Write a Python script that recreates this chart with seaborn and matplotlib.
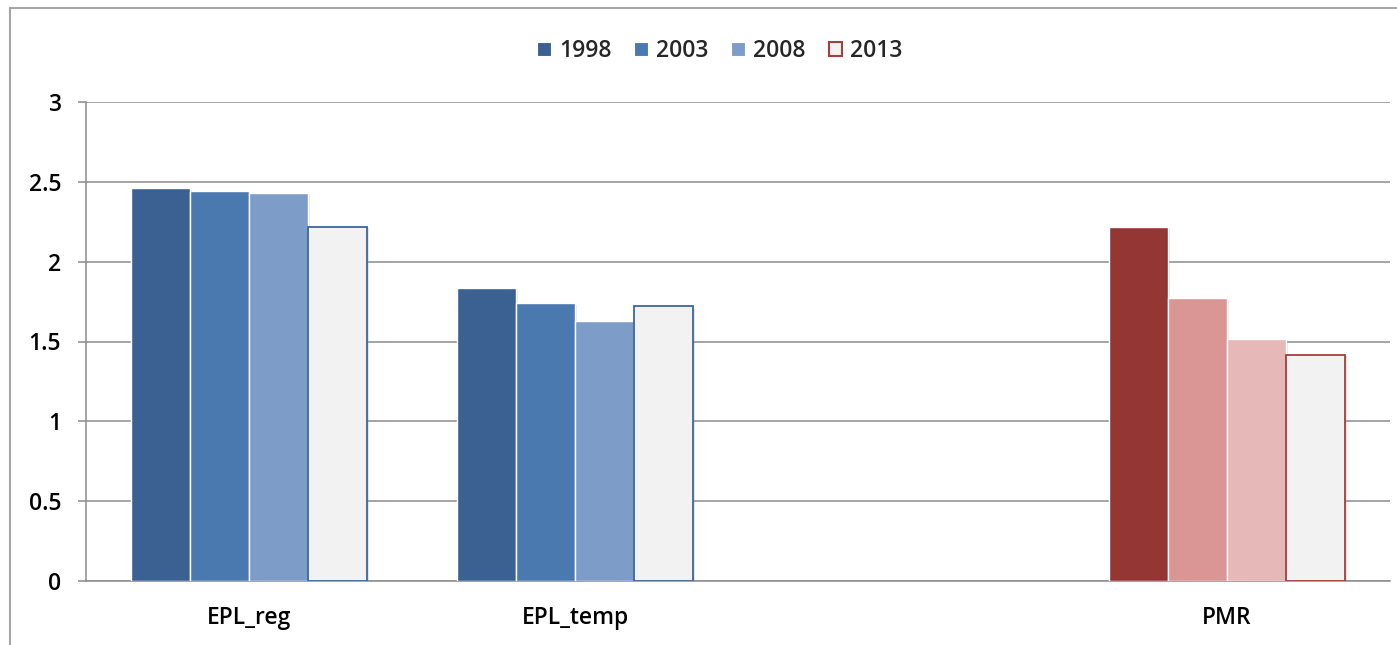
import matplotlib
matplotlib.use("Agg")
import matplotlib.pyplot as plt
import matplotlib.patheffects as pe
from matplotlib.patches import Patch, Rectangle
import pandas as pd
import seaborn as sns

# Indicator slots (one blank slot keeps PMR apart from the EPL group)
categories = ["EPL_reg", "EPL_temp", " ", "PMR"]
years = ["1998", "2003", "2008", "2013"]
epl_reg = [2.46, 2.44, 2.43, 2.22]
epl_temp = [1.835, 1.74, 1.63, 1.72]
pmr = [2.22, 1.77, 1.515, 1.415]
ytick_values = [0, 0.5, 1, 1.5, 2, 2.5, 3]
ytick_labels = ["0", "0.5", "1", "1.5", "2", "2.5", "3"]

blue_fills = ["#3A6191", "#4A79B0", "#7E9CC8", "#F2F2F2"]
red_fills = ["#943634", "#D99694", "#E6B8B7", "#F2F2F2"]
blue_edge = "#3E6699"
red_edge = "#A0403E"
grid_grey = "#8C8C8C"

rows = []
for cat, vals in [("EPL_reg", epl_reg), ("EPL_temp", epl_temp), ("PMR", pmr)]:
    for yr, v in zip(years, vals):
        rows.append({"indicator": cat, "year": yr, "value": v})
df = pd.DataFrame(rows)

sns.set_theme(style="white")
plt.rcParams["font.family"] = ["Open Sans", "DejaVu Sans"]
plt.rcParams["font.weight"] = 600
FS = 16.5

W, H = 1397, 645
fig = plt.figure(figsize=(W / 100, H / 100), dpi=100)
ax = fig.add_axes([86 / W, 1 - 581 / H, (1390 - 86) / W, (581 - 102) / H])

sns.barplot(data=df, x="indicator", y="value", hue="year", order=categories,
            hue_order=years, width=0.725, errorbar=None, saturation=1,
            legend=False, ax=ax)

# Colour each bar by indicator family and year
for hi, container in enumerate(ax.containers):
    for bar in container:
        ci = int(round(bar.get_x() + bar.get_width() / 2))
        fills = red_fills if categories[ci] == "PMR" else blue_fills
        edge = red_edge if categories[ci] == "PMR" else blue_edge
        bar.set_facecolor(fills[hi])
        if hi == 3:
            bar.set_edgecolor(edge)
            bar.set_linewidth(1.3)
        else:
            bar.set_edgecolor("white")
            bar.set_linewidth(1.0)
        bar.set_path_effects([
            pe.SimplePatchShadow(offset=(1.5, -1.0), shadow_rgbFace="#999999", alpha=0.25),
            pe.Normal(),
        ])
        bar.set_zorder(3)

ax.set_ylim(0, 3)
ax.set_xlim(-0.5, len(categories) - 0.5)
ax.set_yticks(ytick_values)
ax.set_yticklabels(ytick_labels)
ax.set_xlabel("")
ax.set_ylabel("")
ax.yaxis.grid(True, color=grid_grey, linewidth=1.1)
ax.xaxis.grid(False)
ax.set_axisbelow(True)

for side in ["top", "right"]:
    ax.spines[side].set_visible(False)
for side in ["left", "bottom"]:
    ax.spines[side].set_color(grid_grey)
    ax.spines[side].set_linewidth(1.1)

ax.tick_params(axis="y", length=6, width=1.1, color=grid_grey, pad=12,
               labelsize=FS, labelcolor="black", left=True)
ax.tick_params(axis="x", length=0, pad=18, labelsize=FS, labelcolor="black")

handles = [Patch(facecolor=blue_fills[i], edgecolor="white", linewidth=0.8) for i in range(3)]
handles.append(Patch(facecolor="#F2F2F2", edgecolor=red_edge, linewidth=1.5))
fig.legend(handles, years, loc="center", bbox_to_anchor=(720 / W, 1 - 51 / H),
           ncol=4, frameon=False, handlelength=0.6, handleheight=0.6,
           handletextpad=0.35, columnspacing=1.0, fontsize=FS)

# Outer chart-area border
fig.patches.append(Rectangle((10 / W, -0.1), 1.2, (1 - 8 / H) + 0.1,
                             transform=fig.transFigure, fill=False,
                             edgecolor="#A6A6A6", linewidth=1.5))

fig.savefig("out.png", dpi=100)
